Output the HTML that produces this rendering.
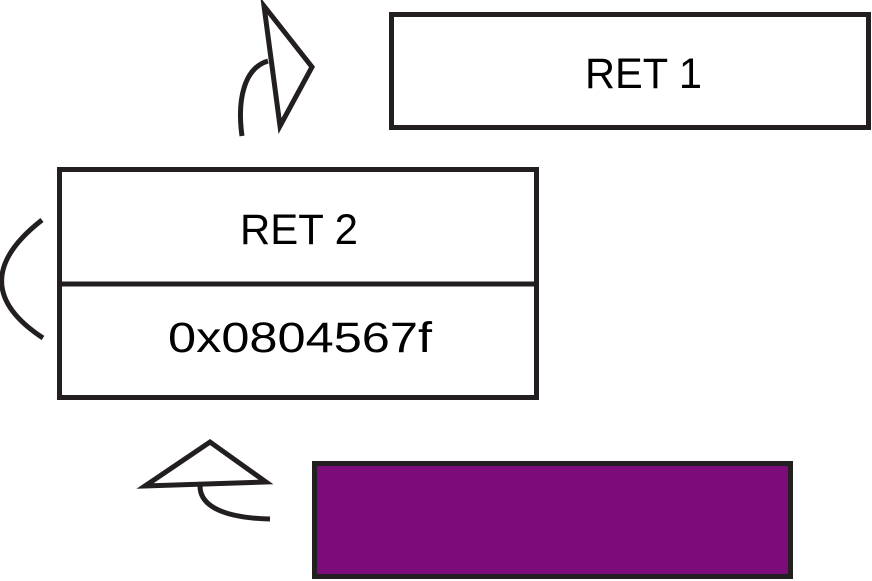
<!DOCTYPE html>
<html><head><style>html,body{margin:0;padding:0;background:#fff}svg{display:block}</style></head>
<body>
<svg width="872" height="581" viewBox="0 0 872 581" xmlns="http://www.w3.org/2000/svg">
<g fill="none" stroke="#231f20" stroke-width="5">
<polygon points="264,6 312,67 280,126" stroke-linejoin="miter"/>
<path d="M242,136 C237,100 244,68 268,61"/>
<rect x="391.5" y="14.5" width="477" height="113"/>
<rect x="59.5" y="169.5" width="477" height="228"/>
<line x1="59" y1="284" x2="537" y2="284"/>
<path d="M42,220 C-12,262 -12,302 43,338"/>
<polygon points="145,486 210,442 266,482"/>
<path d="M200,486 C200,508 228,518 270,519"/>
<rect x="314.5" y="463.5" width="476" height="113" fill="#7b0c7a"/>
</g>
<g font-family="Liberation Sans, sans-serif" font-size="43" fill="#000">
<text x="585" y="88" textLength="117" lengthAdjust="spacingAndGlyphs">RET 1</text>
<text x="240" y="244" textLength="118" lengthAdjust="spacingAndGlyphs">RET 2</text>
<text x="168" y="352" textLength="264" lengthAdjust="spacingAndGlyphs">0x0804567f</text>
</g>
</svg>
</body></html>
